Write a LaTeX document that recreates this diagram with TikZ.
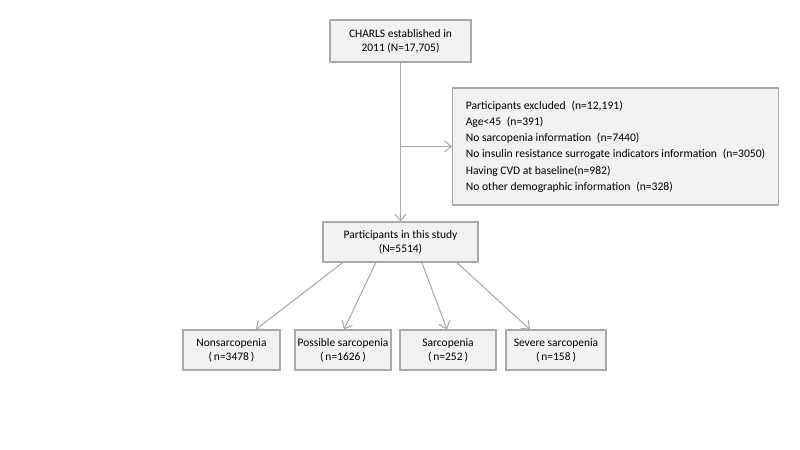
\documentclass[tikz,border=0pt]{standalone}
\usepackage{fontspec}
\setmainfont{Carlito}
\usepackage{tikz}
\usetikzlibrary{arrows.meta, positioning, calc}
\definecolor{boxgray}{RGB}{242,242,242}
\definecolor{linegray}{RGB}{170,170,170}

\begin{document}
\begin{tikzpicture}[
  x=0.03cm, y=-0.03cm,
  stagebox/.style={rectangle, draw=linegray, fill=boxgray, line width=0.9pt,
                   font=\fontsize{9.8}{11.8}\selectfont, align=center,
                   minimum height=1.2cm, inner sep=1pt},
  exclbox/.style={rectangle, draw=linegray, fill=boxgray, line width=0.9pt,
                  font=\fontsize{9.9}{13.9}\selectfont, align=left,
                  minimum width=9.78cm, minimum height=3.51cm,
                  inner xsep=0.3cm, anchor=west},
  link/.style={-{Straight Barb[length=2mm, width=3.4mm]}, draw=linegray, line width=0.9pt},
]
\useasboundingbox (0,0) rectangle (800,450);

% Cohort
\node[stagebox, minimum width=4.23cm, minimum height=1.26cm] (charls) at (400.5, 41) {CHARLS established in\\2011 (N=17,705)};
\node[stagebox, minimum width=4.65cm] (study) at (400.5, 242) {Participants in this study\\(N=5514)};

% Exclusions
\node[exclbox] (excl) at (452, 146.5) {Participants excluded\enspace(n=12,191)\\
  Age<45\enspace(n=391)\\
  No sarcopenia information\enspace(n=7440)\\
  No insulin resistance surrogate indicators information\enspace(n=3050)\\
  Having CVD at baseline(n=982)\\
  No other demographic information\enspace(n=328)};

% Groups
\node[stagebox, minimum width=2.91cm] (nonsarc) at (231.5, 350) {Nonsarcopenia\\(\,n=3478\,)};
\node[stagebox, minimum width=2.88cm] (possible) at (343, 350) {Possible sarcopenia\\(\,n=1626\,)};
\node[stagebox, minimum width=2.88cm] (sarc) at (448, 350) {Sarcopenia\\(\,n=252\,)};
\node[stagebox, minimum width=3.0cm] (severe) at (556, 350) {Severe sarcopenia\\(\,n=158\,)};

% Flow
\coordinate (split) at (charls.south |- excl.west);
\draw[link] (charls.south) -- (study.north);
\draw[link] (split) -- (excl.west);

\draw[link] ([xshift=-1.73cm]study.south) -- ([xshift=0.73cm]nonsarc.north);
\draw[link] ([xshift=-0.74cm]study.south) -- ([xshift=0.03cm]possible.north);
\draw[link] ([xshift=0.64cm]study.south) -- ([xshift=-0.03cm]sarc.north);
\draw[link] ([xshift=1.69cm]study.south) -- ([xshift=-0.78cm]severe.north);

\end{tikzpicture}
\end{document}
